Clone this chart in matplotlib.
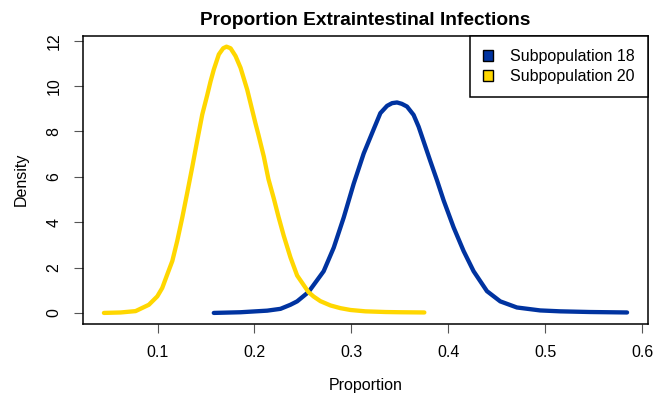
import numpy as np
import matplotlib.pyplot as plt
from matplotlib.patches import Patch

plt.rcParams['font.family'] = ['Liberation Sans', 'DejaVu Sans']

# density estimates of the posterior proportion, per subpopulation
sub20_x = [0.0446, 0.0619, 0.0773, 0.0910, 0.0997, 0.1048, 0.1100, 0.1152,
           0.1203, 0.1255, 0.1306, 0.1358, 0.1409, 0.1461, 0.1512, 0.1546,
           0.1580, 0.1632, 0.1677, 0.1711, 0.1753, 0.1804, 0.1856, 0.1925,
           0.2010, 0.2041, 0.2096, 0.2144, 0.2199, 0.2247, 0.2302, 0.2371,
           0.2440, 0.2557, 0.2611, 0.2680, 0.2784, 0.2887, 0.2990, 0.3144,
           0.3351, 0.3500, 0.3753]
sub20_y = [0.0, 0.02, 0.08, 0.36, 0.73, 1.1, 1.7, 2.29,
           3.18, 4.21, 5.3, 6.44, 7.6, 8.75, 9.6, 10.2,
           10.73, 11.4, 11.67, 11.74, 11.67, 11.33, 10.81, 9.84,
           8.36, 7.85, 6.9, 5.9, 5.05, 4.25, 3.4, 2.45,
           1.65, 0.92, 0.72, 0.52, 0.33, 0.21, 0.13, 0.07,
           0.04, 0.03, 0.02]

sub18_x = [0.1580, 0.1856, 0.2131, 0.2268, 0.2371, 0.2440, 0.2557, 0.2639,
           0.2714, 0.2818, 0.2921, 0.3024, 0.3127, 0.3230, 0.3299, 0.3368,
           0.3420, 0.3471, 0.3520, 0.3574, 0.3642, 0.3694, 0.3814, 0.3884,
           0.3952, 0.4055, 0.4158, 0.4261, 0.4399, 0.4536, 0.4708, 0.4948,
           0.5155, 0.5464, 0.5845]
sub18_y = [0.0, 0.03, 0.1, 0.18, 0.36, 0.51, 0.92, 1.4,
           1.84, 2.88, 4.21, 5.7, 7.03, 8.1, 8.81, 9.13,
           9.25, 9.28, 9.22, 9.1, 8.73, 8.21, 6.7, 5.84,
           4.96, 3.77, 2.73, 1.84, 0.96, 0.51, 0.24, 0.11,
           0.07, 0.04, 0.02]

col18 = '#0033a0'
col20 = '#ffd700'

fig = plt.figure(figsize=(6.56, 3.98), dpi=100)
ax = fig.add_axes([0.1265, 0.187, 0.8613, 0.7225])

ax.plot(sub18_x, sub18_y, color=col18, lw=3.1,
        solid_capstyle='round', solid_joinstyle='round')
ax.plot(sub20_x, sub20_y, color=col20, lw=3.1,
        solid_capstyle='round', solid_joinstyle='round')

ax.margins(x=0.04, y=0.04)
ax.set_xticks([0.1, 0.2, 0.3, 0.4, 0.5, 0.6])
ax.set_xticklabels(['0.1', '0.2', '0.3', '0.4', '0.5', '0.6'])
ax.set_yticks([0, 2, 4, 6, 8, 10, 12])
ax.tick_params(length=6.5, width=0.8, color='#555555', labelsize=11.5, pad=9)
ax.tick_params(axis='y', labelrotation=90)
for lab in ax.get_yticklabels():
    lab.set_va('center')

for s in ax.spines.values():
    s.set_linewidth(1.1)
    s.set_color('black')

ax.set_title('Proportion Extraintestinal Infections', fontsize=13.75,
             fontweight='bold', pad=8)
ax.set_xlabel('Proportion', fontsize=11.5, labelpad=13)
ax.set_ylabel('Density', fontsize=11.5, labelpad=13)

handles = [Patch(facecolor=col18, edgecolor='black', lw=1),
           Patch(facecolor=col20, edgecolor='black', lw=1)]
leg = ax.legend(handles, ['Subpopulation 18', 'Subpopulation 20'],
                loc='upper right', borderaxespad=0, fancybox=False,
                edgecolor='black', framealpha=1, fontsize=11.5,
                handlelength=0.65, handleheight=0.65, handletextpad=1.1,
                borderpad=0.8, labelspacing=0.35)
leg.get_frame().set_linewidth(1.1)

fig.savefig('out.png', dpi=100)
